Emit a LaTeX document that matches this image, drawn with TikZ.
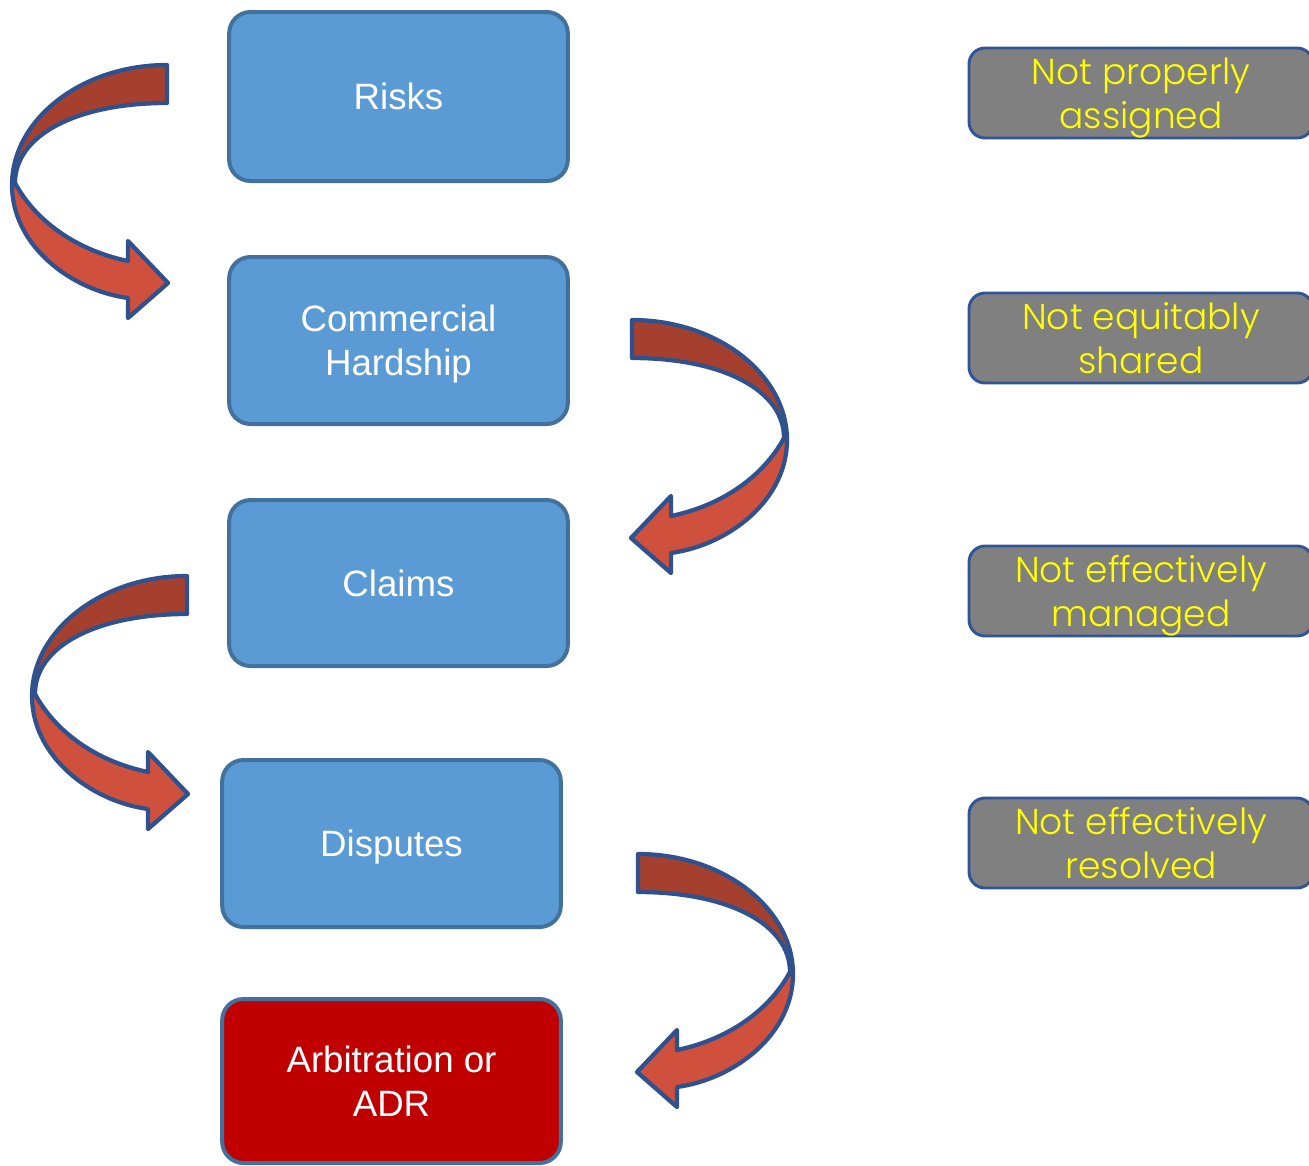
\documentclass[tikz,border=0pt]{standalone}
\usepackage{fontspec}
\setmainfont{Liberation Sans}
\newfontfamily\gfont{Poppins Light}
\definecolor{boxblue}{HTML}{5B9BD5}
\definecolor{boxedge}{HTML}{41719C}
\definecolor{boxred}{HTML}{C00000}
\definecolor{greyfill}{HTML}{808080}
\definecolor{greyedge}{HTML}{2F5597}
\definecolor{arrdark}{HTML}{A5402F}
\definecolor{arrlight}{HTML}{CF503C}
\definecolor{arredge}{HTML}{2F528F}
\definecolor{txtyellow}{HTML}{FFFF00}
\tikzset{
  arrowband/.style={draw=arredge, line width=3.2pt, line join=round},
  curvarrow/.pic={
    \draw[arrowband, fill=arrdark] (0,0) .. controls (-86,0) and (-155,55) .. (-155,120)
      -- (-152,118) .. controls (-152,70) and (-90,38) .. (0,38) -- cycle;
    \draw[arrowband, fill=arrlight] (-152,118) .. controls (-132,155) and (-92,185) .. (-39,196)
      -- (-39,176) -- (1,218) -- (-39,253) -- (-39,233)
      .. controls (-97,225) and (-155,180) .. (-155,120) -- cycle;
  }
}
\begin{document}
\begin{tikzpicture}[x=0.75pt,y=-0.75pt,
  stagebox/.style={draw=boxedge, line width=3pt, rounded corners=16pt, fill=boxblue,
    text=white, minimum width=254pt, inner sep=0pt, align=center, text depth=0pt,
    font=\fontsize{27.5}{33}\selectfont},
  notebox/.style={draw=greyedge, line width=2.2pt, rounded corners=12pt, fill=greyfill,
    text=txtyellow, minimum width=258pt, minimum height=67.5pt, inner sep=0pt, align=center,
    text depth=0pt, font=\gfont\fontsize{27}{33}\selectfont}
]
\useasboundingbox (0,0) rectangle (1309,1165);

\node[stagebox, minimum height=126.75pt] (risks) at (398.5,96.5) {Risks};
\node[stagebox, minimum height=125.25pt] (hard) at (398.5,340.5) {Commercial\\Hardship};
\node[stagebox, minimum height=124.5pt] (claims) at (398.5,583) {Claims};
\node[stagebox, minimum height=125.25pt] (disp) at (391.5,843.5) {Disputes};
\node[stagebox, minimum height=123pt, fill=boxred] (arb) at (391.5,1081) {Arbitration or\\ADR};

\node[notebox] (n1) at (1141,93) {Not properly\\assigned};
\node[notebox] (n2) at (1141,338) {Not equitably\\shared};
\node[notebox] (n3) at (1141,591) {Not effectively\\managed};
\node[notebox] (n4) at (1141,843) {Not effectively\\resolved};

\pic at (167,65) {curvarrow};
\pic[xscale=-1] at (632,320) {curvarrow};
\pic at (187,576) {curvarrow};
\pic[xscale=-1] at (638,854) {curvarrow};
\end{tikzpicture}
\end{document}
